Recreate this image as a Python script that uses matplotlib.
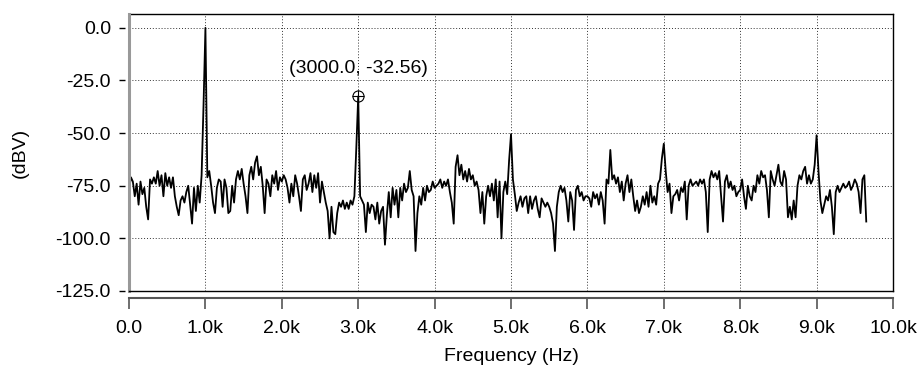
import numpy as np
import matplotlib
matplotlib.use('Agg')
import matplotlib.pyplot as plt

# FFT bin spacing of the analyser trace
BIN_HZ = 25.0

# trace values in dBV, one list per kHz (40 bins each)
dbv_0k = [-77, -71, -73, -80, -74, -84, -73, -79, -76, -85,
          -91, -72, -74, -71, -74, -68, -75, -70, -80, -69,
          -75, -71, -76, -71, -80, -85, -89, -82, -80, -83,
          -78, -75, -84, -93, -76, -87, -75, -83, -70, -37]
dbv_1k = [0, -71, -68, -75, -83, -88, -76, -72, -73, -85,
          -72, -76, -88, -87, -75, -83, -72, -68, -72, -67,
          -74, -80, -88, -70, -66, -72, -64, -61, -70, -66,
          -75, -88, -72, -74, -80, -70, -74, -68, -77, -71]
dbv_2k = [-73, -70, -72, -76, -83, -74, -80, -70, -74, -80,
          -87, -72, -70, -77, -74, -69, -78, -70, -76, -69,
          -83, -73, -78, -83, -87, -100, -85, -97, -98, -88,
          -83, -85, -82, -86, -83, -86, -82, -84, -80, -57]
dbv_3k = [-32.56, -80, -82, -84, -97, -83, -88, -84, -85, -91,
          -83, -93, -87, -85, -103, -89, -78, -90, -76, -84,
          -77, -90, -76, -82, -74, -78, -76, -68, -77, -80,
          -106, -88, -80, -84, -76, -82, -75, -78, -77, -73]
dbv_4k = [-76, -75, -74, -72, -76, -73, -75, -72, -78, -83,
          -93, -66, -60.5, -70, -65, -72, -68, -73, -67, -72,
          -70, -75, -73, -77, -88, -78, -93, -80, -75, -80,
          -74, -82, -72, -90, -73, -100, -78, -73, -79, -63]
dbv_5k = [-50.5, -72, -79, -87, -83, -80, -85, -81, -80, -88,
          -80, -86, -82, -80, -86, -90, -81, -83, -85, -83,
          -85, -88, -93, -106, -85, -78, -75, -78, -76, -82,
          -92, -78, -82, -96, -77, -75, -80, -78, -82, -80]
dbv_6k = [-80, -81, -85, -78, -81, -79, -84, -78, -82, -93,
          -72, -74, -58, -72, -70, -74, -71, -78, -73, -82,
          -74, -70, -78, -72, -80, -87, -82, -88, -85, -80,
          -84, -78, -85, -75, -83, -80, -84, -74, -72, -62]
dbv_7k = [-55, -68, -78, -74, -88, -80, -79, -77, -82, -76,
          -78, -73, -91, -75, -72, -75, -74, -73, -75, -72,
          -74, -72, -78, -97, -72, -68, -71, -69, -72, -68,
          -80, -92, -73, -70, -76, -73, -77, -75, -80, -78]
dbv_8k = [-77, -72, -80, -86, -75, -80, -82, -75, -78, -70,
          -74, -68, -71, -70, -77, -90, -68, -72, -75, -70,
          -65, -73, -75, -68, -72, -90, -85, -91, -82, -90,
          -75, -70, -72, -68, -66, -74, -70, -74, -72, -65]
dbv_9k = [-51, -68, -82, -88, -84, -80, -82, -77, -85, -98,
          -78, -75, -78, -76, -74, -76, -75, -73, -77, -75,
          -72, -74, -78, -88, -72, -70, -92]

dbv = dbv_0k + dbv_1k + dbv_2k + dbv_3k + dbv_4k + dbv_5k + dbv_6k + dbv_7k + dbv_8k + dbv_9k
freq = np.arange(len(dbv)) * BIN_HZ

# cursor readout
marker_f = 3000.0
marker_db = -32.56

x_ticks = [0, 1000, 2000, 3000, 4000, 5000, 6000, 7000, 8000, 9000, 10000]
x_labels = ['0.0', '1.0k', '2.0k', '3.0k', '4.0k', '5.0k', '6.0k', '7.0k', '8.0k', '9.0k', '10.0k']
y_ticks = [0, -25, -50, -75, -100, -125]
y_labels = ['0.0', '-25.0', '-50.0', '-75.0', '-100.0', '-125.0']

plt.rcParams['font.family'] = ['Liberation Sans', 'DejaVu Sans']
plt.rcParams['font.size'] = 14
plt.rcParams['axes.unicode_minus'] = False

fig = plt.figure(figsize=(9.19, 3.67), dpi=100)
ax = fig.add_axes([0.1404, 0.2071, 0.8313, 0.7548])

ax.plot(freq, dbv, color='black', lw=1.3, zorder=4)

# cursor marker and its label
ax.plot([marker_f], [marker_db], marker='o', ms=8, mfc='none', mec='black', mew=0.8, zorder=5)
ax.plot([marker_f], [marker_db], marker='+', ms=8, mec='black', mew=0.8, zorder=5)
ax.annotate('(%.1f, %.2f)' % (marker_f, marker_db), (marker_f, marker_db),
            xytext=(0, 20), textcoords='offset points', ha='center', va='center')

ax.set_xlim(0, 10000)
ax.set_ylim(-125, 6.6)
ax.set_xticks(x_ticks)
ax.set_xticklabels(x_labels)
ax.set_yticks(y_ticks)
ax.set_yticklabels(y_labels)

ax.grid(True, linestyle=(0, (1, 2)), color='#333333', lw=0.7)

# frame: grey left edge, black top/right/bottom, x axis drawn below the box
ax.spines['left'].set_position(('outward', 3))
ax.spines['left'].set_visible(False)
ax.axvline(0, color='#999999', lw=2.2, clip_on=False, zorder=6)
ax.axhline(-125, color='black', lw=1.0, clip_on=False, zorder=6)
ax.spines['top'].set_linewidth(1.0)
ax.spines['right'].set_linewidth(1.0)
ax.spines['bottom'].set_position(('outward', 5))
ax.spines['bottom'].set_color('#555555')
ax.spines['bottom'].set_linewidth(1.5)

ax.tick_params(axis='x', direction='out', length=8, width=1.2, color='#555555', pad=8)
ax.tick_params(axis='y', direction='out', length=4.5, width=1.0, pad=5.5)

ax.set_xlabel('Frequency (Hz)', labelpad=8)
fig.text(20 / 919, 0.5845, '(dBV)', rotation=90, ha='center', va='center', fontsize=14)

fig.savefig('out.png', dpi=100)
